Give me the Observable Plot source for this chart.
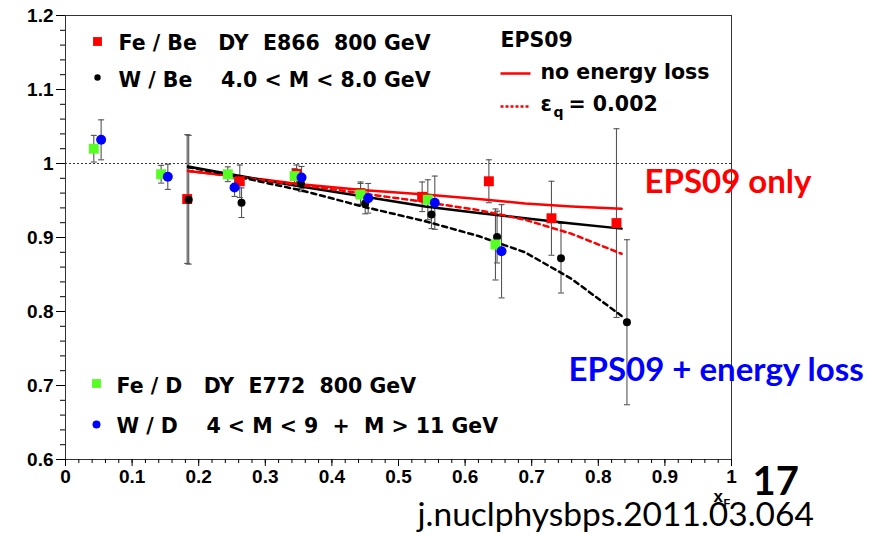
<!DOCTYPE html>
<html><head><meta charset="utf-8">
<script src="https://cdn.jsdelivr.net/npm/d3@7"></script>
<script src="https://cdn.jsdelivr.net/npm/@observablehq/plot@0.6"></script>
<style>
html,body{margin:0;padding:0;background:#fff;}
</style>
</head><body><div id="chart"></div>
<script>
// ---- data ----
const feBeX   = [0.1827, 0.2617, 0.347, 0.443, 0.5355, 0.6357, 0.7297, 0.8273];
const feBeY   = [0.952, 0.976, 0.986, 0.960, 0.955, 0.976, 0.926, 0.9195];
const feBeErr = [0.087, 0.022, 0.012, 0.015, 0.020, 0.029, 0.050, 0.1275];

const wBeX   = [0.185, 0.2643, 0.3535, 0.450, 0.5495, 0.648, 0.744, 0.843];
const wBeY   = [0.951, 0.947, 0.973, 0.946, 0.931, 0.9006, 0.872, 0.7855];
const wBeErr = [0.087, 0.020, 0.011, 0.014, 0.019, 0.035, 0.047, 0.1115];

const feDX   = [0.0425, 0.1436, 0.2437, 0.344, 0.443, 0.544, 0.6456];
const feDY   = [1.020, 0.9855, 0.9855, 0.983, 0.958, 0.951, 0.8906];
const feDErr = [0.018, 0.012, 0.010, 0.010, 0.015, 0.027, 0.048];

const wDX   = [0.0535, 0.1536, 0.2538, 0.3544, 0.4545, 0.5545, 0.6547];
const wDY   = [1.032, 0.982, 0.9675, 0.981, 0.953, 0.947, 0.8814];
const wDErr = [0.027, 0.017, 0.012, 0.015, 0.020, 0.036, 0.063];

const curveX        = [0.184, 0.25, 0.30, 0.353, 0.45, 0.54, 0.62, 0.69, 0.76, 0.835];
const feNoLoss      = [0.990, 0.983, 0.978, 0.972, 0.964, 0.958, 0.952, 0.946, 0.942, 0.939];
const wNoLoss       = [0.996, 0.985, 0.977, 0.969, 0.955, 0.942, 0.933, 0.926, 0.919, 0.912];
const feEloss       = [0.990, 0.983, 0.977, 0.971, 0.959, 0.948, 0.937, 0.924, 0.905, 0.878];
const wEloss        = [0.995, 0.984, 0.974, 0.964, 0.941, 0.922, 0.902, 0.880, 0.844, 0.794];

const xMajor = [0, 0.1, 0.2, 0.3, 0.4, 0.5, 0.6, 0.7, 0.8, 0.9, 1];
const yMajor = [0.6, 0.7, 0.8, 0.9, 1, 1.1, 1.2];

// ---- tables ----
const pts = (xs, ys, es) => xs.map((x, i) => ({x, y: ys[i], e: es[i]}));
const feBe = pts(feBeX, feBeY, feBeErr);
const wBe = pts(wBeX, wBeY, wBeErr);
const feD = pts(feDX, feDY, feDErr);
const wD = pts(wDX, wDY, wDErr);
const crv = ys => curveX.map((x, i) => ({x, y: ys[i]}));

const xMinor = d3.range(0, 51).map(i => i / 50);
const yMinor = d3.range(30, 61).map(i => i / 50);
const fmt = d => String(+d.toFixed(2));

// custom symbols
const hseg = w => ({draw(ctx) { ctx.moveTo(-w, 0); ctx.lineTo(w, 0); }});
const cap = hseg(3);

const ML = 65, MT = 15;
const ERR = "#555";

function errs(data) {
  return [
    Plot.ruleX(data, {x: "x", y1: d => d.y - d.e, y2: d => d.y + d.e, stroke: ERR, strokeWidth: 1.1}),
    Plot.dot(data, {x: "x", y: d => d.y + d.e, symbol: cap, fill: "none", stroke: ERR, strokeWidth: 1.1}),
    Plot.dot(data, {x: "x", y: d => d.y - d.e, symbol: cap, fill: "none", stroke: ERR, strokeWidth: 1.1})
  ];
}
const ann = (txt, px, py, o = {}) => Plot.text([txt], {text: d => d, frameAnchor: "top-left",
  dx: px - ML, dy: py - MT, textAnchor: "start", lineAnchor: "middle", ...o});
const mk = (px, py, o = {}) => Plot.dot([0], {frameAnchor: "top-left", dx: px - ML, dy: py - MT, ...o});

const LEG = {fontFamily: "DejaVu Sans", fontWeight: "bold", fontSize: 20.5, fill: "#000"};
const CAL = {fontFamily: "Lato", fontWeight: "bold", fontSize: 33};
const nb = s => s.replace(/ /g, "\u00a0");

const chart = Plot.plot({
  width: 886, height: 536,
  marginLeft: ML, marginRight: 155, marginTop: MT, marginBottom: 77,
  x: {domain: [0, 1]},
  y: {domain: [0.6, 1.2]},
  style: {fontFamily: "Liberation Sans, Arial, sans-serif", background: "#fff", overflow: "visible"},
  marks: [
    Plot.ruleY([1], {stroke: "#000", strokeWidth: 0.8, strokeDasharray: "2,2"}),
    Plot.frame({stroke: "#333"}),
    Plot.axisX({ticks: xMinor, tickSize: 4, tickFormat: () => "", label: null}),
    Plot.axisX({ticks: xMajor, tickSize: 7, tickPadding: 3, tickFormat: fmt, label: null,
      fontFamily: "Liberation Sans Narrow, Liberation Sans", fontWeight: "bold", fontSize: 19}),
    Plot.axisY({ticks: yMinor, tickSize: 5, tickFormat: () => "", label: null}),
    Plot.axisY({ticks: yMajor, tickSize: 9, tickPadding: 3, tickFormat: fmt, label: null,
      fontFamily: "Liberation Sans Narrow, Liberation Sans", fontWeight: "bold", fontSize: 19}),

    ...errs(feBe), ...errs(wBe), ...errs(feD), ...errs(wD),

    Plot.line(crv(feNoLoss), {x: "x", y: "y", stroke: "#ff0000", strokeWidth: 2.5}),
    Plot.line(crv(wNoLoss), {x: "x", y: "y", stroke: "#000", strokeWidth: 2.5}),
    Plot.line(crv(feEloss), {x: "x", y: "y", stroke: "#ff0000", strokeWidth: 2.5, strokeDasharray: "5,4"}),
    Plot.line(crv(wEloss), {x: "x", y: "y", stroke: "#000", strokeWidth: 2.5, strokeDasharray: "5,4"}),

    Plot.dot(feBe, {x: "x", y: "y", symbol: "square", r: 5.6, fill: "#ff0000"}),
    Plot.dot(wBe, {x: "x", y: "y", symbol: "circle", r: 4, fill: "#000"}),
    Plot.dot(feD, {x: "x", y: "y", symbol: "square", r: 5.6, fill: "#55ff22"}),
    Plot.dot(wD, {x: "x", y: "y", symbol: "circle", r: 5, fill: "#0000ff"}),

    // legends
    mk(97, 41, {symbol: "square", r: 5, fill: "#ff0000"}),
    ann(nb("Fe / Be   DY  E866  800 GeV"), 118, 43, LEG),
    mk(97, 77, {symbol: "circle", r: 3.2, fill: "#000"}),
    ann(nb("W / Be    4.0 < M < 8.0 GeV"), 118, 80, LEG),

    ann("EPS09", 500, 40, LEG),
    mk(515, 73, {symbol: hseg(15), fill: "none", stroke: "#ff0000", strokeWidth: 2.5}),
    ann("no energy loss", 540, 72, LEG),
    mk(515, 106, {symbol: hseg(15), fill: "none", stroke: "#ff0000", strokeWidth: 2.5, strokeDasharray: "3,2"}),
    ann("\u03b5", 540, 104, LEG),
    ann("q", 553, 112, {...LEG, fontSize: 14}),
    ann(nb("= 0.002"), 568, 104, LEG),

    mk(96, 383, {symbol: "square", r: 5, fill: "#55ff22"}),
    ann(nb("Fe / D   DY  E772  800 GeV"), 116, 386, LEG),
    mk(96, 424, {symbol: "circle", r: 4, fill: "#0000ff"}),
    ann(nb("W / D    4 < M < 9  +  M > 11 GeV"), 116, 426, LEG),

    // annotations
    ann("EPS09 only", 644, 182, {...CAL, fill: "#ff0000"}),
    ann("EPS09 + energy loss", 568, 370, {...CAL, fill: "#0000ff"}),
    ann("17", 752, 482, {fontFamily: "Lato", fontWeight: "bold", fontSize: 40, fill: "#000"}),
    ann("x", 713, 496, {fontFamily: "Liberation Sans", fontWeight: "bold", fontSize: 17, fill: "#000"}),
    ann("F", 723, 503, {fontFamily: "Liberation Sans", fontWeight: "bold", fontSize: 11, fill: "#000"}),
    ann("j.nuclphysbps.2011.03.064", 417, 515, {fontFamily: "Lato", fontWeight: "normal", fontSize: 33.5, fill: "#000"})
  ]
});
document.getElementById("chart").appendChild(chart);
</script>
</body></html>
